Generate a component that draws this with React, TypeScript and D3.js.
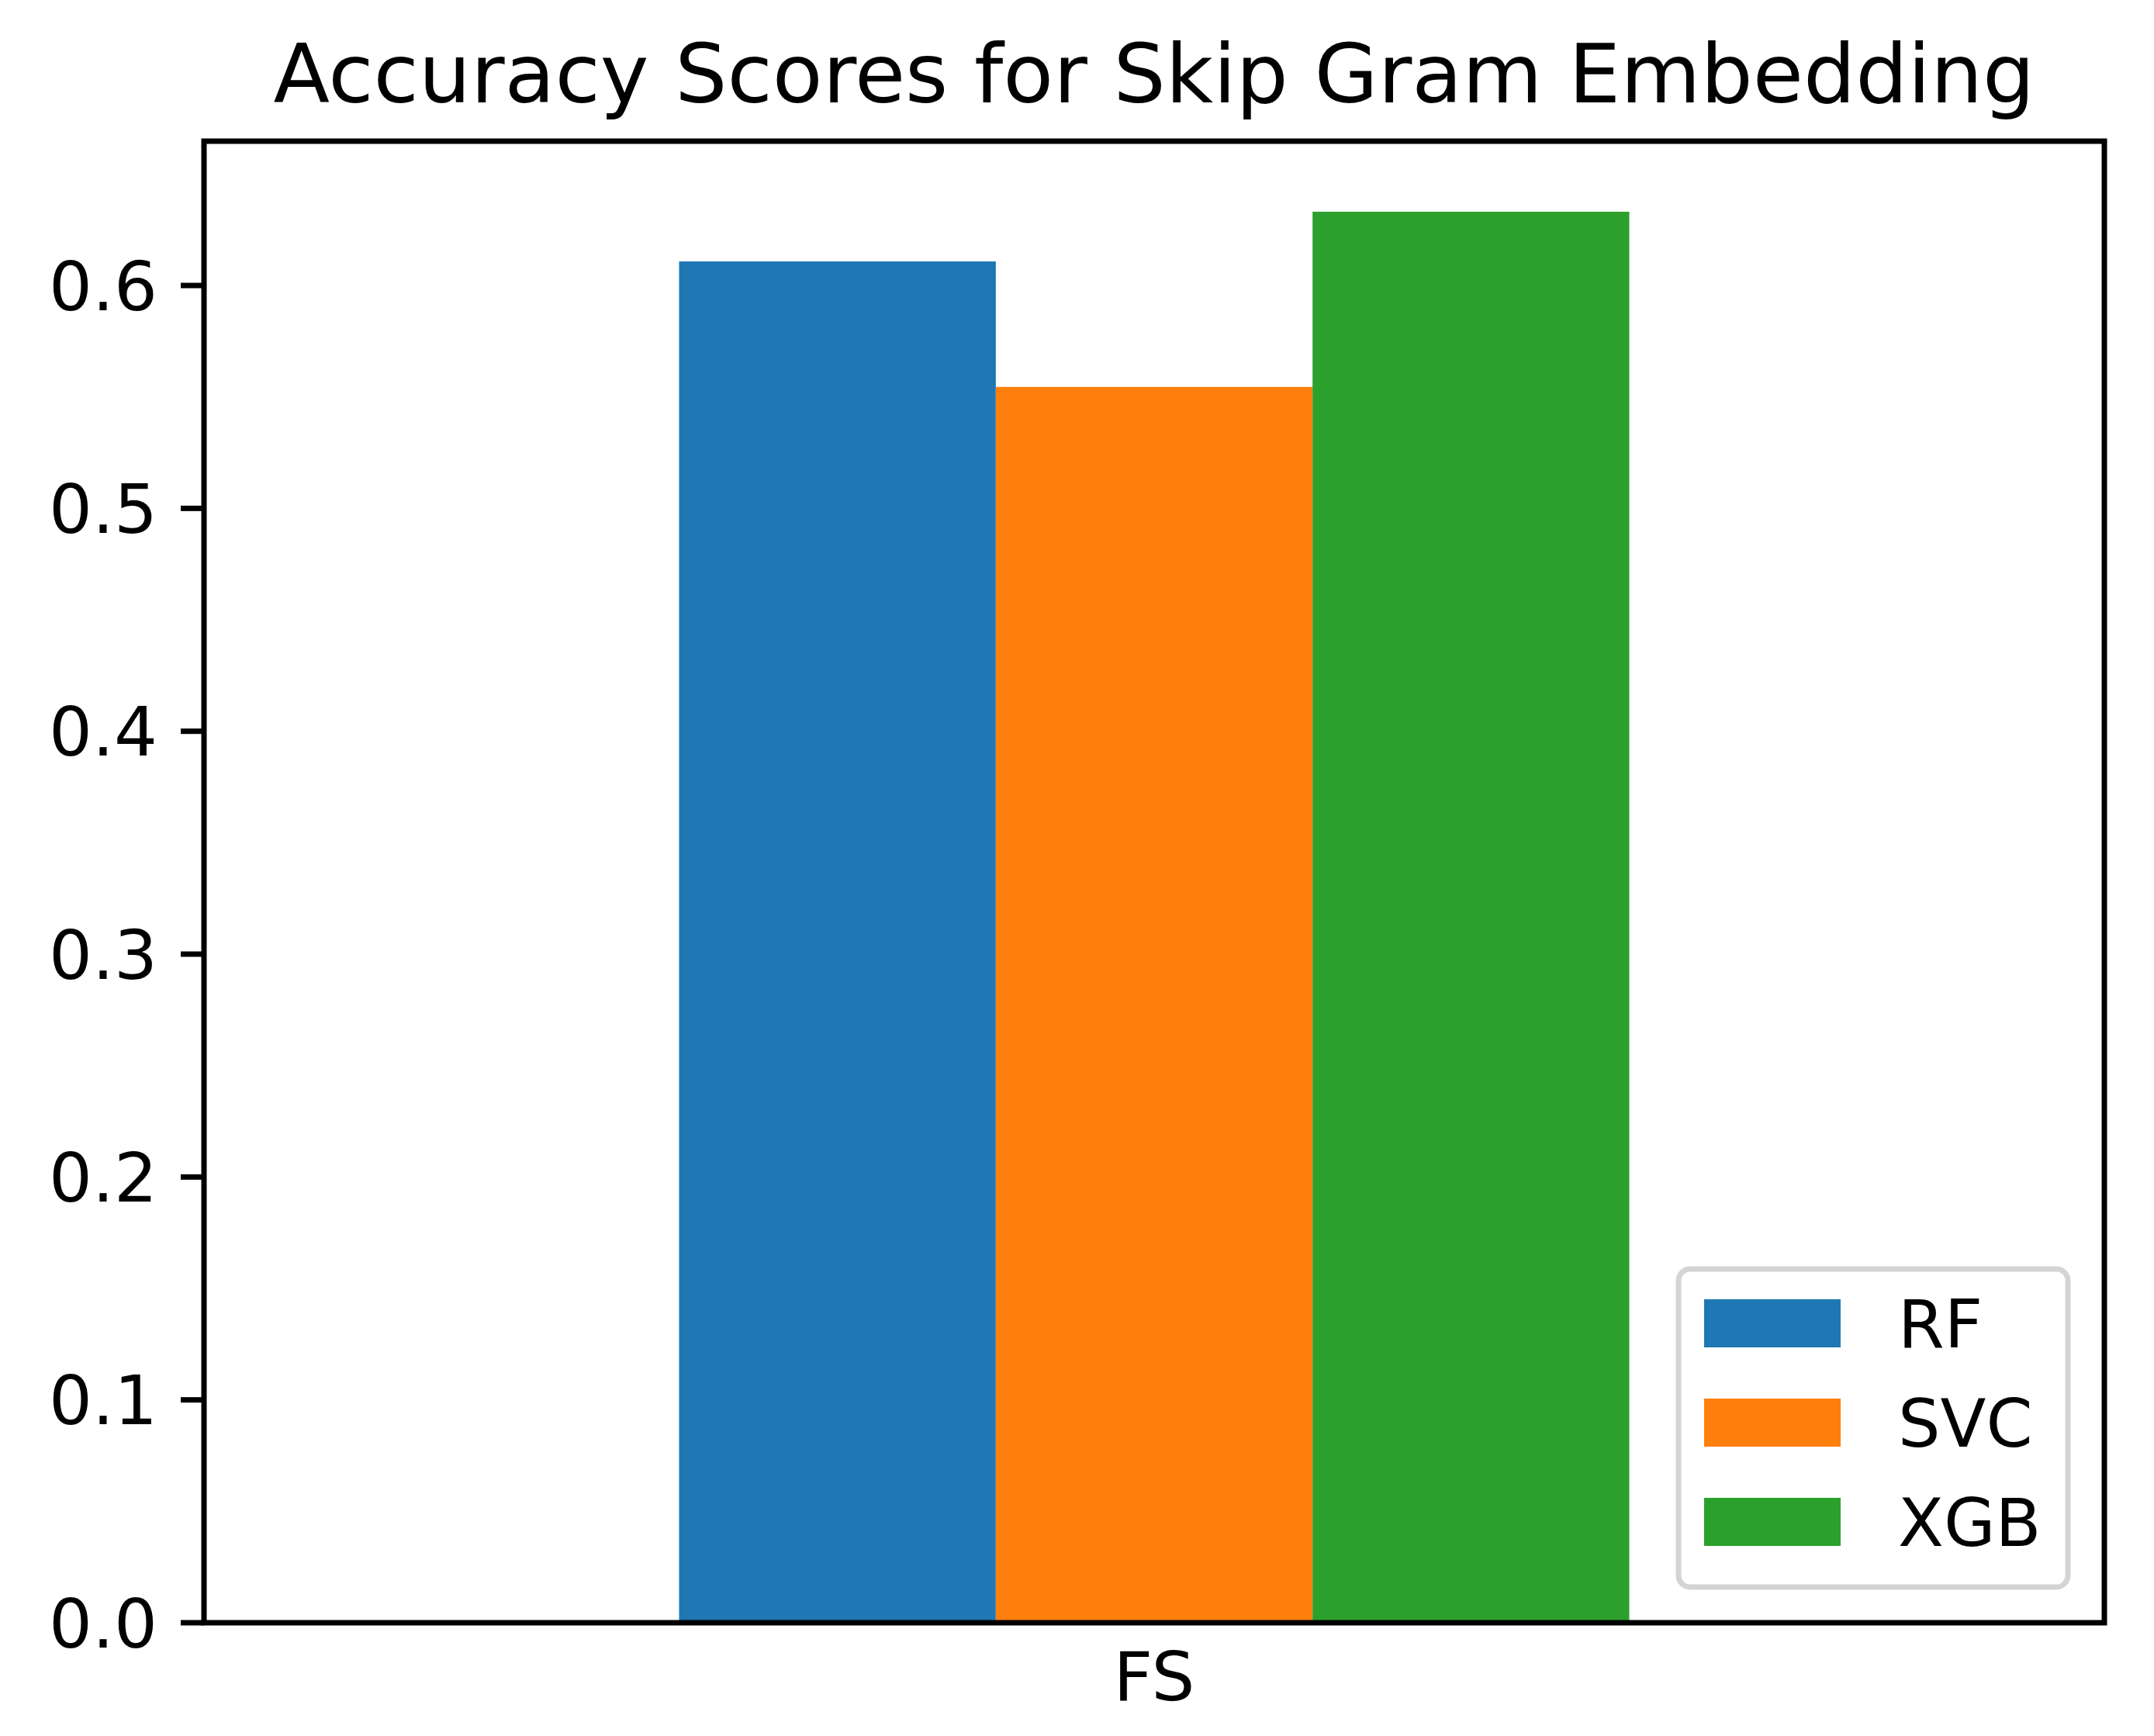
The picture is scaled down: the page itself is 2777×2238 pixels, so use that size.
import React from "react";
import * as d3 from "d3";

const categories = ["FS"];
const series = ["RF", "SVC", "XGB"];
const colors = ["#1f77b4", "#ff7f0e", "#2ca02c"];
// one value per category for each series
const rfValues = [0.6108];
const svcValues = [0.5545];
const xgbValues = [0.6331];
const yTicks = [0.0, 0.1, 0.2, 0.3, 0.4, 0.5, 0.6];
const title = "Accuracy Scores for Skip Gram Embedding";

const W = 2777;
const H = 2238;
const margin = { left: 263, right: 64, top: 182, bottom: 146 };
const FONT = "DejaVu Sans, Verdana, sans-serif";

const App = () => {
  React.useEffect(() => {
    document.body.style.margin = "0";
  }, []);

  const values = [rfValues, svcValues, xgbValues];
  const ymax = d3.max(values, (v) => d3.max(v)) * 1.05;

  const xScale = React.useMemo(
    () =>
      d3
        .scaleBand()
        .domain(categories)
        .range([margin.left, W - margin.right])
        .paddingInner(0)
        .paddingOuter(0.5),
    []
  );
  const inner = React.useMemo(
    () => d3.scaleBand().domain(series).range([0, xScale.bandwidth()]),
    [xScale]
  );
  const yScale = React.useMemo(
    () => d3.scaleLinear().domain([0, ymax]).range([H - margin.bottom, margin.top]),
    [ymax]
  );

  const x0 = margin.left;
  const x1 = W - margin.right;
  const y0 = H - margin.bottom;
  const y1 = margin.top;
  const sw = 7;

  // legend layout
  const lgLeft = 2164;
  const lgTop = 1636;
  const lgW = 502;
  const lgH = 410;
  const rowH = 128;

  return (
    <svg width={W} height={H} style={{ display: "block", background: "#fff" }}>
      <rect x={0} y={0} width={W} height={H} fill="#fff" />
      {/* bars */}
      {categories.map((c, ci) => (
        <g key={c}>
          {series.map((s, si) => {
            const v = values[si][ci];
            return (
              <rect
                key={s}
                x={xScale(c) + inner(s)}
                y={yScale(v)}
                width={inner.bandwidth()}
                height={yScale(0) - yScale(v)}
                fill={colors[si]}
              />
            );
          })}
        </g>
      ))}

      {/* y ticks */}
      {yTicks.map((t) => (
        <g key={t} transform={`translate(0, ${yScale(t)})`}>
          <line x1={x0 - 30} x2={x0} y1={0} y2={0} stroke="#000" strokeWidth={sw} />
          <text
            x={x0 - 60}
            y={0}
            dy="0.36em"
            textAnchor="end"
            fontFamily={FONT}
            fontSize={88}
            fill="#000"
          >
            {d3.format(".1f")(t)}
          </text>
        </g>
      ))}

      {/* x labels */}
      {categories.map((c) => (
        <text
          key={c}
          x={xScale(c) + xScale.bandwidth() / 2}
          y={2192}
          textAnchor="middle"
          fontFamily={FONT}
          fontSize={88}
          fill="#000"
        >
          {c}
        </text>
      ))}

      {/* spines */}
      <rect
        x={x0}
        y={y1}
        width={x1 - x0}
        height={y0 - y1}
        fill="none"
        stroke="#000"
        strokeWidth={sw}
      />

      {/* title */}
      <text
        x={(x0 + x1) / 2}
        y={132}
        textAnchor="middle"
        fontFamily={FONT}
        fontSize={106}
        fill="#000"
      >
        {title}
      </text>

      {/* legend */}
      <g>
        <rect
          x={lgLeft}
          y={lgTop}
          width={lgW}
          height={lgH}
          rx={15}
          ry={15}
          fill="#fff"
          fillOpacity={0.8}
          stroke="#d4d4d4"
          strokeWidth={7}
        />
        {series.map((s, i) => (
          <g key={s} transform={`translate(${lgLeft + 33}, ${lgTop + 39 + i * rowH})`}>
            <rect x={0} y={0} width={176} height={62} fill={colors[i]} />
            <text x={250} y={62} fontFamily={FONT} fontSize={86} fill="#000">
              {s}
            </text>
          </g>
        ))}
      </g>
    </svg>
  );
};

export default App;
